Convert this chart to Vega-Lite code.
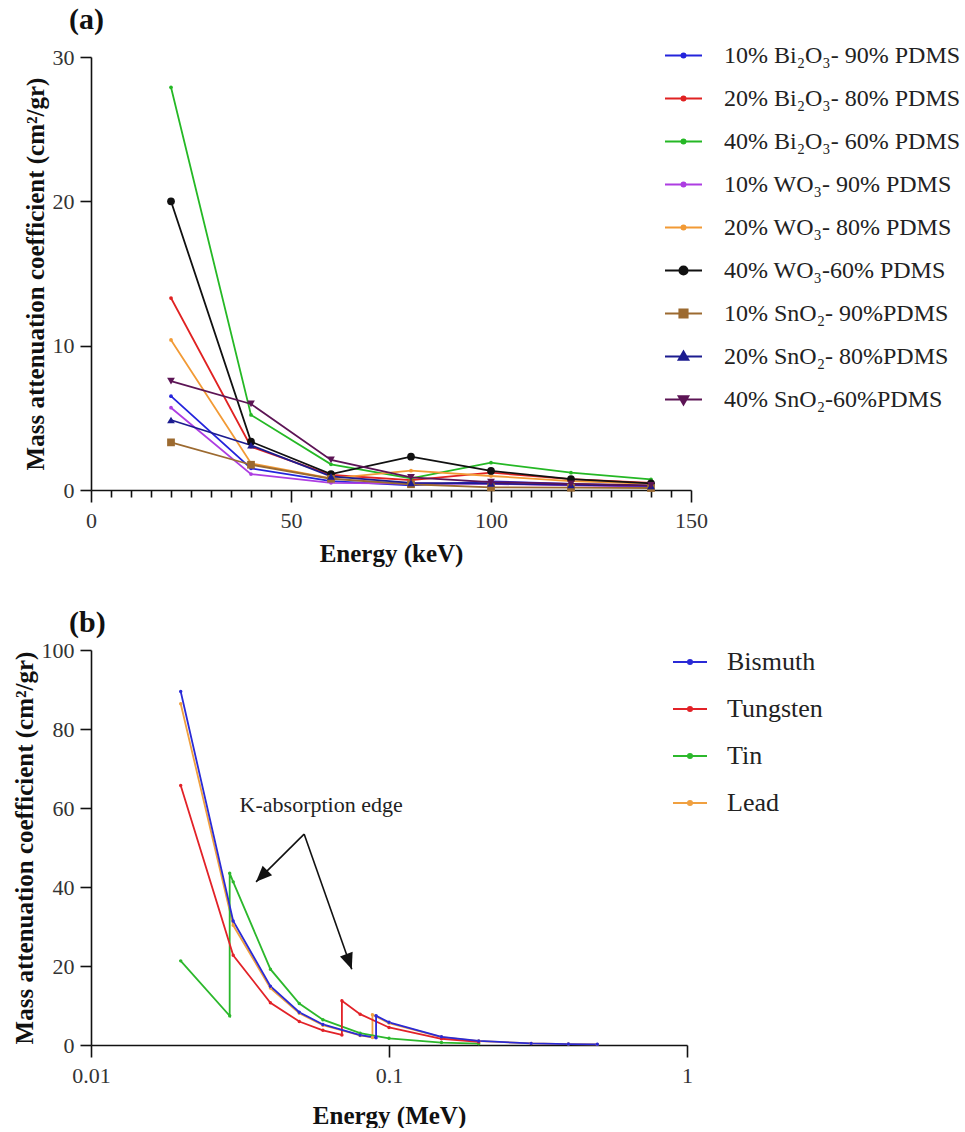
{
  "$schema": "https://vega.github.io/schema/vega-lite/v6.json",
  "background": "white",
  "padding": {"left": 12, "top": 5, "right": 0, "bottom": 0},
  "spacing": 42,
  "config": {
    "font": "Liberation Serif",
    "view": {"stroke": null},
    "axis": {
      "grid": false,
      "domainColor": "#111111",
      "domainWidth": 1.6,
      "tickColor": "#111111",
      "tickWidth": 1.6,
      "tickSize": 11,
      "labelFont": "Liberation Serif",
      "labelFontSize": 22,
      "labelColor": "#333333",
      "labelPadding": 6,
      "titleFont": "Liberation Serif",
      "titleFontSize": 25,
      "titleFontWeight": "bold",
      "titleColor": "#111111"
    },
    "legend": {"labelFont": "Liberation Serif", "labelColor": "#222222", "labelLimit": 500}
  },
  "resolve": {"scale": {"color": "independent", "shape": "independent", "x": "independent", "y": "independent"}},
  "vconcat": [
    {
      "width": 600,
      "height": 433,
      "title": {"text": "(a)", "anchor": "start", "frame": "group", "dx": -22, "fontSize": 30, "fontWeight": "bold", "font": "Liberation Serif", "color": "#111111", "offset": 1},
      "data": {"values": [
        {"s": "10% Bi₂O₃- 90% PDMS", "e": 20, "v": 6.5}, {"s": "10% Bi₂O₃- 90% PDMS", "e": 40, "v": 1.5}, {"s": "10% Bi₂O₃- 90% PDMS", "e": 60, "v": 0.62}, {"s": "10% Bi₂O₃- 90% PDMS", "e": 80, "v": 0.32}, {"s": "10% Bi₂O₃- 90% PDMS", "e": 100, "v": 0.6}, {"s": "10% Bi₂O₃- 90% PDMS", "e": 120, "v": 0.42}, {"s": "10% Bi₂O₃- 90% PDMS", "e": 140, "v": 0.28},
        {"s": "20% Bi₂O₃- 80% PDMS", "e": 20, "v": 13.3}, {"s": "20% Bi₂O₃- 80% PDMS", "e": 40, "v": 3.0}, {"s": "20% Bi₂O₃- 80% PDMS", "e": 60, "v": 1.04}, {"s": "20% Bi₂O₃- 80% PDMS", "e": 80, "v": 0.69}, {"s": "20% Bi₂O₃- 80% PDMS", "e": 100, "v": 1.2}, {"s": "20% Bi₂O₃- 80% PDMS", "e": 120, "v": 0.76}, {"s": "20% Bi₂O₃- 80% PDMS", "e": 140, "v": 0.5},
        {"s": "40% Bi₂O₃- 60% PDMS", "e": 20, "v": 27.9}, {"s": "40% Bi₂O₃- 60% PDMS", "e": 40, "v": 5.2}, {"s": "40% Bi₂O₃- 60% PDMS", "e": 60, "v": 1.78}, {"s": "40% Bi₂O₃- 60% PDMS", "e": 80, "v": 0.8}, {"s": "40% Bi₂O₃- 60% PDMS", "e": 100, "v": 1.89}, {"s": "40% Bi₂O₃- 60% PDMS", "e": 120, "v": 1.2}, {"s": "40% Bi₂O₃- 60% PDMS", "e": 140, "v": 0.74},
        {"s": "10% WO₃- 90% PDMS", "e": 20, "v": 5.7}, {"s": "10% WO₃- 90% PDMS", "e": 40, "v": 1.1}, {"s": "10% WO₃- 90% PDMS", "e": 60, "v": 0.5}, {"s": "10% WO₃- 90% PDMS", "e": 80, "v": 0.45}, {"s": "10% WO₃- 90% PDMS", "e": 100, "v": 0.42}, {"s": "10% WO₃- 90% PDMS", "e": 120, "v": 0.33}, {"s": "10% WO₃- 90% PDMS", "e": 140, "v": 0.24},
        {"s": "20% WO₃- 80% PDMS", "e": 20, "v": 10.4}, {"s": "20% WO₃- 80% PDMS", "e": 40, "v": 1.85}, {"s": "20% WO₃- 80% PDMS", "e": 60, "v": 0.8}, {"s": "20% WO₃- 80% PDMS", "e": 80, "v": 1.34}, {"s": "20% WO₃- 80% PDMS", "e": 100, "v": 0.97}, {"s": "20% WO₃- 80% PDMS", "e": 120, "v": 0.62}, {"s": "20% WO₃- 80% PDMS", "e": 140, "v": 0.42},
        {"s": "40% WO₃-60% PDMS", "e": 20, "v": 20.0}, {"s": "40% WO₃-60% PDMS", "e": 40, "v": 3.35}, {"s": "40% WO₃-60% PDMS", "e": 60, "v": 1.1}, {"s": "40% WO₃-60% PDMS", "e": 80, "v": 2.31}, {"s": "40% WO₃-60% PDMS", "e": 100, "v": 1.32}, {"s": "40% WO₃-60% PDMS", "e": 120, "v": 0.76}, {"s": "40% WO₃-60% PDMS", "e": 140, "v": 0.46},
        {"s": "10% SnO₂- 90%PDMS", "e": 20, "v": 3.3}, {"s": "10% SnO₂- 90%PDMS", "e": 40, "v": 1.75}, {"s": "10% SnO₂- 90%PDMS", "e": 60, "v": 0.78}, {"s": "10% SnO₂- 90%PDMS", "e": 80, "v": 0.4}, {"s": "10% SnO₂- 90%PDMS", "e": 100, "v": 0.18}, {"s": "10% SnO₂- 90%PDMS", "e": 120, "v": 0.16}, {"s": "10% SnO₂- 90%PDMS", "e": 140, "v": 0.14},
        {"s": "20% SnO₂- 80%PDMS", "e": 20, "v": 4.85}, {"s": "20% SnO₂- 80%PDMS", "e": 40, "v": 3.1}, {"s": "20% SnO₂- 80%PDMS", "e": 60, "v": 0.95}, {"s": "20% SnO₂- 80%PDMS", "e": 80, "v": 0.5}, {"s": "20% SnO₂- 80%PDMS", "e": 100, "v": 0.45}, {"s": "20% SnO₂- 80%PDMS", "e": 120, "v": 0.35}, {"s": "20% SnO₂- 80%PDMS", "e": 140, "v": 0.28},
        {"s": "40% SnO₂-60%PDMS", "e": 20, "v": 7.55}, {"s": "40% SnO₂-60%PDMS", "e": 40, "v": 5.96}, {"s": "40% SnO₂-60%PDMS", "e": 60, "v": 2.08}, {"s": "40% SnO₂-60%PDMS", "e": 80, "v": 0.88}, {"s": "40% SnO₂-60%PDMS", "e": 100, "v": 0.55}, {"s": "40% SnO₂-60%PDMS", "e": 120, "v": 0.42}, {"s": "40% SnO₂-60%PDMS", "e": 140, "v": 0.32}
      ]},
      "encoding": {
        "x": {"field": "e", "type": "quantitative", "scale": {"domain": [0, 150], "nice": false},
          "axis": {"values": [0,5,10,15,20,25,30,35,40,45,50,55,60,65,70,75,80,85,90,95,100,105,110,115,120,125,130,135,140,145,150],
            "labelExpr": "datum.value % 50 === 0 ? datum.label : ''",
            "tickSize": {"condition": {"test": "datum.value % 50 === 0", "value": 12}, "value": 7},
            "labelFlush": false, "labelOverlap": false, "labelPadding": 8, "titlePadding": 10, "title": "Energy (keV)"}},
        "y": {"field": "v", "type": "quantitative", "scale": {"domain": [0, 30], "nice": false},
          "axis": {"values": [0, 10, 20, 30], "titlePadding": 4, "title": "Mass attenuation coefficient (cm²/gr)"}}
      },
      "layer": [
        {
          "mark": {"type": "line", "strokeWidth": 1.8},
          "encoding": {
            "color": {"field": "s", "type": "nominal",
              "scale": {
                "domain": ["10% Bi₂O₃- 90% PDMS", "20% Bi₂O₃- 80% PDMS", "40% Bi₂O₃- 60% PDMS", "10% WO₃- 90% PDMS", "20% WO₃- 80% PDMS", "40% WO₃-60% PDMS", "10% SnO₂- 90%PDMS", "20% SnO₂- 80%PDMS", "40% SnO₂-60%PDMS"],
                "range": ["#2424dc", "#e02222", "#25b825", "#ad3de2", "#f29a35", "#111111", "#9c6a30", "#1c1c90", "#5c1455"]
              },
              "legend": {
                "orient": "none", "legendX": 573, "legendY": -21, "title": null,
                "symbolType": "M-1,0H1", "symbolSize": 1369, "symbolStrokeWidth": 2,
                "labelFontSize": 24, "labelOffset": 21, "rowPadding": 11,
                "encode": {"symbols": {"update": {
                  "shape": {"signal": "['M-1,0H1M-0.11,0A0.11,0.11 0 1 1 0.11,0A0.11,0.11 0 1 1 -0.11,0Z','M-1,0H1M-0.11,0A0.11,0.11 0 1 1 0.11,0A0.11,0.11 0 1 1 -0.11,0Z','M-1,0H1M-0.11,0A0.11,0.11 0 1 1 0.11,0A0.11,0.11 0 1 1 -0.11,0Z','M-1,0H1M-0.11,0A0.11,0.11 0 1 1 0.11,0A0.11,0.11 0 1 1 -0.11,0Z','M-1,0H1M-0.11,0A0.11,0.11 0 1 1 0.11,0A0.11,0.11 0 1 1 -0.11,0Z','M-1,0H1M-0.22,0A0.22,0.22 0 1 1 0.22,0A0.22,0.22 0 1 1 -0.22,0Z','M-1,0H1M-0.22,-0.22H0.22V0.22H-0.22Z','M-1,0H1M0,-0.27L0.26,0.18H-0.26Z','M-1,0H1M0,0.27L0.26,-0.18H-0.26Z'][datum.index]"},
                  "fill": {"signal": "['#2424dc','#e02222','#25b825','#ad3de2','#f29a35','#111111','#9c6a30','#1c1c90','#5c1455'][datum.index]"}
                }}}
              }
            }
          }
        },
        {
          "transform": [{"filter": {"field": "s", "oneOf": ["10% Bi₂O₃- 90% PDMS", "20% Bi₂O₃- 80% PDMS", "40% Bi₂O₃- 60% PDMS", "10% WO₃- 90% PDMS", "20% WO₃- 80% PDMS"]}}],
          "mark": {"type": "point", "filled": true, "opacity": 1, "size": 14, "shape": "circle"},
          "encoding": {"color": {"field": "s", "type": "nominal", "legend": null}}
        },
        {
          "transform": [{"filter": {"field": "s", "oneOf": ["40% WO₃-60% PDMS", "10% SnO₂- 90%PDMS", "20% SnO₂- 80%PDMS", "40% SnO₂-60%PDMS"]}}],
          "mark": {"type": "point", "filled": true, "opacity": 1, "size": 60},
          "encoding": {
            "color": {"field": "s", "type": "nominal", "legend": null},
            "shape": {"field": "s", "type": "nominal", "legend": null,
              "scale": {"domain": ["40% WO₃-60% PDMS", "10% SnO₂- 90%PDMS", "20% SnO₂- 80%PDMS", "40% SnO₂-60%PDMS"], "range": ["circle", "square", "triangle-up", "triangle-down"]}}
          }
        }
      ]
    },
    {
      "width": 596,
      "height": 395,
      "title": {"text": "(b)", "anchor": "start", "frame": "group", "dx": -22, "fontSize": 30, "fontWeight": "bold", "font": "Liberation Serif", "color": "#111111", "offset": 1},
      "layer": [
        {
          "data": {"values": [
            {"s": "Lead", "o": 1, "e": 0.02, "v": 86.4}, {"s": "Lead", "o": 2, "e": 0.03, "v": 30.3}, {"s": "Lead", "o": 3, "e": 0.04, "v": 14.4}, {"s": "Lead", "o": 4, "e": 0.05, "v": 8.04}, {"s": "Lead", "o": 5, "e": 0.06, "v": 5.02}, {"s": "Lead", "o": 6, "e": 0.08, "v": 2.42}, {"s": "Lead", "o": 7, "e": 0.088, "v": 1.91}, {"s": "Lead", "o": 8, "e": 0.088, "v": 7.68}, {"s": "Lead", "o": 9, "e": 0.1, "v": 5.55}, {"s": "Lead", "o": 10, "e": 0.15, "v": 2.01}, {"s": "Lead", "o": 11, "e": 0.2, "v": 1.0}, {"s": "Lead", "o": 12, "e": 0.3, "v": 0.4}, {"s": "Lead", "o": 13, "e": 0.4, "v": 0.23}, {"s": "Lead", "o": 14, "e": 0.5, "v": 0.16},
            {"s": "Tin", "o": 1, "e": 0.02, "v": 21.3}, {"s": "Tin", "o": 2, "e": 0.0292, "v": 7.4}, {"s": "Tin", "o": 3, "e": 0.0292, "v": 43.5}, {"s": "Tin", "o": 4, "e": 0.03, "v": 41.3}, {"s": "Tin", "o": 5, "e": 0.04, "v": 19.2}, {"s": "Tin", "o": 6, "e": 0.05, "v": 10.5}, {"s": "Tin", "o": 7, "e": 0.06, "v": 6.4}, {"s": "Tin", "o": 8, "e": 0.08, "v": 3.0}, {"s": "Tin", "o": 9, "e": 0.1, "v": 1.7}, {"s": "Tin", "o": 10, "e": 0.15, "v": 0.62}, {"s": "Tin", "o": 11, "e": 0.2, "v": 0.34},
            {"s": "Tungsten", "o": 1, "e": 0.02, "v": 65.7}, {"s": "Tungsten", "o": 2, "e": 0.03, "v": 22.7}, {"s": "Tungsten", "o": 3, "e": 0.04, "v": 10.7}, {"s": "Tungsten", "o": 4, "e": 0.05, "v": 5.95}, {"s": "Tungsten", "o": 5, "e": 0.06, "v": 3.71}, {"s": "Tungsten", "o": 6, "e": 0.0695, "v": 2.55}, {"s": "Tungsten", "o": 7, "e": 0.0695, "v": 11.2}, {"s": "Tungsten", "o": 8, "e": 0.08, "v": 7.81}, {"s": "Tungsten", "o": 9, "e": 0.1, "v": 4.44}, {"s": "Tungsten", "o": 10, "e": 0.15, "v": 1.58}, {"s": "Tungsten", "o": 11, "e": 0.2, "v": 0.78},
            {"s": "Bismuth", "o": 1, "e": 0.02, "v": 89.5}, {"s": "Bismuth", "o": 2, "e": 0.03, "v": 31.4}, {"s": "Bismuth", "o": 3, "e": 0.04, "v": 14.9}, {"s": "Bismuth", "o": 4, "e": 0.05, "v": 8.3}, {"s": "Bismuth", "o": 5, "e": 0.06, "v": 5.2}, {"s": "Bismuth", "o": 6, "e": 0.08, "v": 2.5}, {"s": "Bismuth", "o": 7, "e": 0.0905, "v": 1.86}, {"s": "Bismuth", "o": 8, "e": 0.0905, "v": 7.4}, {"s": "Bismuth", "o": 9, "e": 0.1, "v": 5.74}, {"s": "Bismuth", "o": 10, "e": 0.15, "v": 2.08}, {"s": "Bismuth", "o": 11, "e": 0.2, "v": 1.03}, {"s": "Bismuth", "o": 12, "e": 0.3, "v": 0.41}, {"s": "Bismuth", "o": 13, "e": 0.4, "v": 0.24}, {"s": "Bismuth", "o": 14, "e": 0.5, "v": 0.166}
          ]},
          "layer": [
            {
              "mark": {"type": "line", "strokeWidth": 1.8},
              "encoding": {
                "order": {"field": "o", "type": "quantitative"},
                "color": {"field": "s", "type": "nominal",
                  "scale": {"domain": ["Bismuth", "Tungsten", "Tin", "Lead"], "range": ["#2a2ad6", "#e22228", "#2cb82c", "#f0a040"]},
                  "legend": {
                    "orient": "none", "legendX": 581, "legendY": -6, "title": null,
                    "symbolType": "M-1,0H1", "symbolSize": 1156, "symbolStrokeWidth": 2,
                    "labelFontSize": 26, "labelOffset": 19, "rowPadding": 16,
                    "encode": {"symbols": {"update": {
                      "shape": {"value": "M-1,0H1M-0.12,0A0.12,0.12 0 1 1 0.12,0A0.12,0.12 0 1 1 -0.12,0Z"},
                      "fill": {"signal": "['#2a2ad6','#e22228','#2cb82c','#f0a040'][datum.index]"}
                    }}}
                  }
                }
              }
            },
            {
              "mark": {"type": "point", "filled": true, "opacity": 1, "size": 12, "shape": "circle"},
              "encoding": {"color": {"field": "s", "type": "nominal", "legend": null}}
            }
          ]
        },
        {
          "data": {"values": [{"e": 0.0519, "v": 53.4, "e2": 0.0358, "v2": 41.3}, {"e": 0.0519, "v": 53.4, "e2": 0.075, "v2": 19.2}]},
          "mark": {"type": "rule", "color": "#111111", "strokeWidth": 1.6},
          "encoding": {"x2": {"field": "e2"}, "y2": {"field": "v2"}}
        },
        {
          "data": {"values": [{"e": 0.0358, "v": 41.3}]},
          "mark": {"type": "point", "filled": true, "opacity": 1, "color": "#111111", "size": 1024, "shape": "M0,0L-0.42,1L0.42,1Z", "angle": 225, "strokeWidth": 0},
          "encoding": {}
        },
        {
          "data": {"values": [{"e": 0.075, "v": 19.2}]},
          "mark": {"type": "point", "filled": true, "opacity": 1, "color": "#111111", "size": 1024, "shape": "M0,0L-0.42,1L0.42,1Z", "angle": 160, "strokeWidth": 0},
          "encoding": {}
        },
        {
          "data": {"values": [{"e": 0.0592, "v": 60.8, "t": "K-absorption edge"}]},
          "mark": {"type": "text", "font": "Liberation Serif", "fontSize": 22, "color": "#222222"},
          "encoding": {"text": {"field": "t"}}
        }
      ],
      "encoding": {
        "x": {"field": "e", "type": "quantitative", "scale": {"type": "log", "domain": [0.01, 1], "nice": false},
          "axis": {"values": [0.01, 0.1, 1], "format": "~g", "tickSize": 12, "labelFlush": false, "labelPadding": 8, "titlePadding": 17, "title": "Energy (MeV)"}},
        "y": {"field": "v", "type": "quantitative", "scale": {"domain": [0, 100], "nice": false},
          "axis": {"values": [0, 20, 40, 60, 80, 100], "titlePadding": 4, "title": "Mass attenuation coefficient (cm²/gr)"}}
      }
    }
  ]
}
